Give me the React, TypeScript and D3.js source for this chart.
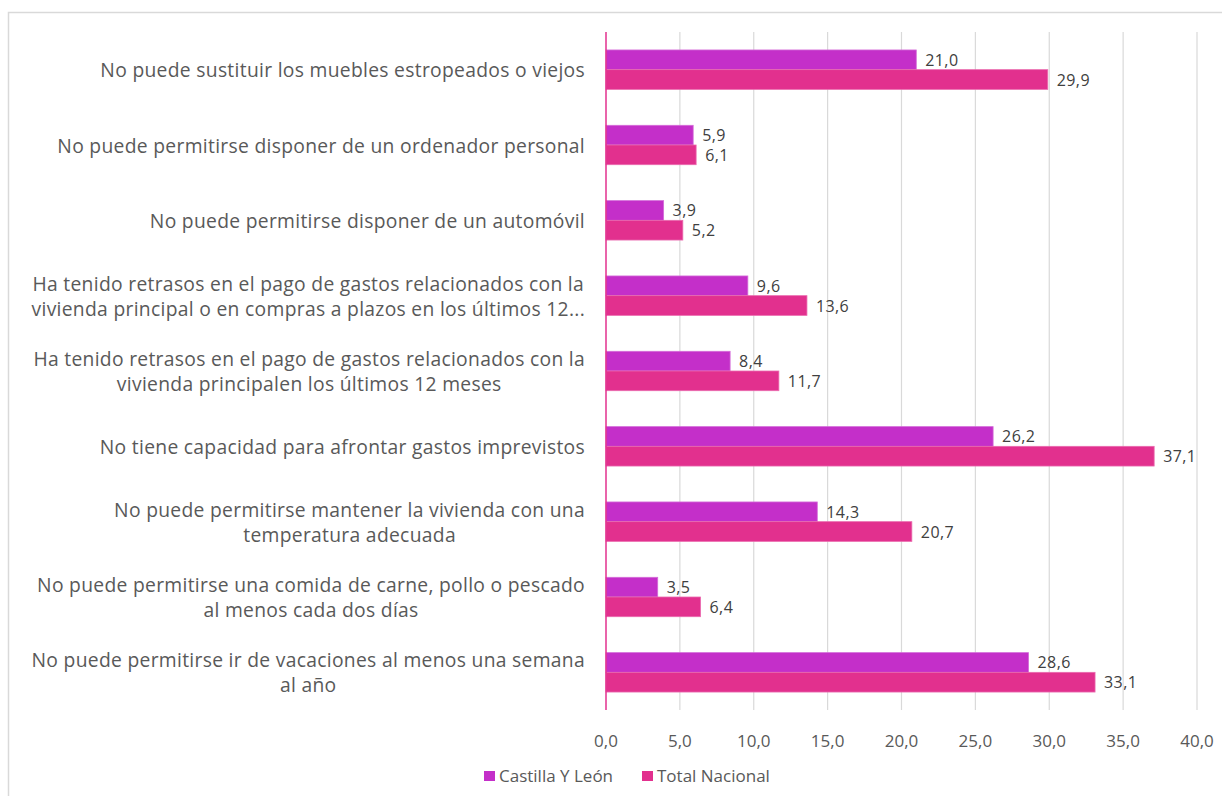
import React from 'react';
import * as d3 from 'd3';

// category labels, already split the way the chart wraps them
const categories: string[][] = [
  ['No puede sustituir los muebles estropeados o viejos'],
  ['No puede permitirse disponer de un ordenador personal'],
  ['No puede permitirse disponer de un automóvil'],
  ['Ha tenido retrasos en el pago de gastos relacionados con la', 'vivienda principal o en compras a plazos en los últimos 12...'],
  ['Ha tenido retrasos en el pago de gastos relacionados con la', 'vivienda principalen los últimos 12 meses'],
  ['No tiene capacidad para afrontar gastos imprevistos'],
  ['No puede permitirse mantener la vivienda con una', 'temperatura adecuada'],
  ['No puede permitirse una comida de carne, pollo o pescado', 'al menos cada dos días'],
  ['No puede permitirse ir de vacaciones al menos una semana', 'al año'],
];

const castillaLeon = [21.0, 5.9, 3.9, 9.6, 8.4, 26.2, 14.3, 3.5, 28.6];
const totalNacional = [29.9, 6.1, 5.2, 13.6, 11.7, 37.1, 20.7, 6.4, 33.1];

const seriesNames = ['Castilla Y León', 'Total Nacional'];
const seriesColors = ['#C42FC9', '#E2308E'];
const seriesStroke = ['#D46BD8', '#EA6AAE'];
const xTicks = [0, 5, 10, 15, 20, 25, 30, 35, 40];

const W = 1222;
const H = 796;
const FONT = '"Open Sans", "Noto Sans", sans-serif';

const App = () => {
  const svgRef = React.useRef<SVGSVGElement | null>(null);

  React.useEffect(() => {
    const svg = d3.select(svgRef.current);
    svg.selectAll('*').remove();

    const left = 606;
    const right = 1197;
    const top = 32;
    const bottom = 710;

    const x = d3.scaleLinear().domain([0, 40]).range([left, right]);
    const y = d3.scaleBand<number>()
      .domain(d3.range(categories.length))
      .range([top, bottom]);
    const barH = 19.7;

    // outer frame (runs off the right and bottom edges)
    svg.append('rect')
      .attr('x', 8.5).attr('y', 12.5)
      .attr('width', W + 20).attr('height', H + 20)
      .attr('fill', 'white')
      .attr('stroke', '#D9D9D9')
      .attr('stroke-width', 1.5);

    // grid
    svg.append('g')
      .selectAll('line')
      .data(xTicks.slice(1))
      .join('line')
      .attr('x1', d => x(d)).attr('x2', d => x(d))
      .attr('y1', top).attr('y2', bottom)
      .attr('stroke', '#D9D9D9')
      .attr('stroke-width', 1.2);

    // tick labels
    svg.append('g')
      .selectAll('text')
      .data(xTicks)
      .join('text')
      .attr('x', d => x(d))
      .attr('y', 740)
      .attr('text-anchor', 'middle')
      .attr('dominant-baseline', 'central')
      .attr('font-family', FONT)
      .attr('font-size', 17)
      .attr('fill', '#595959')
      .text(d => d.toFixed(1).replace('.', ','));

    const series = [castillaLeon, totalNacional];
    series.forEach((vals, s) => {
      const g = svg.append('g');
      g.selectAll('rect')
        .data(vals)
        .join('rect')
        .attr('x', x(0))
        .attr('y', (_, i) => (y(i) as number) + y.bandwidth() / 2 - barH + s * barH)
        .attr('width', d => x(d) - x(0))
        .attr('height', barH)
        .attr('fill', seriesColors[s])
        .attr('stroke', seriesStroke[s])
        .attr('stroke-width', 0.8);

      g.selectAll('text')
        .data(vals)
        .join('text')
        .attr('x', d => x(d) + 9)
        .attr('y', (_, i) => (y(i) as number) + y.bandwidth() / 2 - barH / 2 + s * barH)
        .attr('dominant-baseline', 'central')
        .attr('font-family', FONT)
        .attr('font-size', 16)
        .attr('letter-spacing', 0.4)
        .attr('fill', '#404040')
        .text(d => d.toFixed(1).replace('.', ','));
    });

    // vertical axis line
    svg.append('line')
      .attr('x1', x(0)).attr('x2', x(0))
      .attr('y1', top).attr('y2', bottom)
      .attr('stroke', '#E2308E')
      .attr('stroke-width', 1.5);

    // category labels: block right-aligned, lines centred inside it
    const labelRight = 585;
    const lineH = 25;
    categories.forEach((lines, i) => {
      const cy = (y(i) as number) + y.bandwidth() / 2;
      const g = svg.append('g');
      const texts = lines.map((ln, k) =>
        g.append('text')
          .attr('y', cy + (k - (lines.length - 1) / 2) * lineH)
          .attr('dominant-baseline', 'central')
          .attr('text-anchor', 'middle')
          .attr('font-family', FONT)
          .attr('font-size', 19.3)
          .attr('letter-spacing', 0.3)
          .attr('fill', '#595959')
          .text(ln)
      );
      const widths = texts.map(t => (t.node() as SVGTextElement).getComputedTextLength());
      const maxW = d3.max(widths) || 0;
      texts.forEach(t => t.attr('x', labelRight - maxW / 2));
    });

    // legend
    const legendX = [484, 642];
    seriesNames.forEach((name, s) => {
      svg.append('rect')
        .attr('x', legendX[s]).attr('y', 771)
        .attr('width', 11).attr('height', 10)
        .attr('fill', seriesColors[s]);
      svg.append('text')
        .attr('x', legendX[s] + 15)
        .attr('y', 775)
        .attr('dominant-baseline', 'central')
        .attr('font-family', FONT)
        .attr('font-size', 17)
        .attr('fill', '#595959')
        .text(name);
    });
  }, []);

  return (
    <svg
      ref={svgRef}
      width={W}
      height={H}
      style={{ position: 'absolute', left: 0, top: 0, display: 'block' }}
    />
  );
};

export default App;
